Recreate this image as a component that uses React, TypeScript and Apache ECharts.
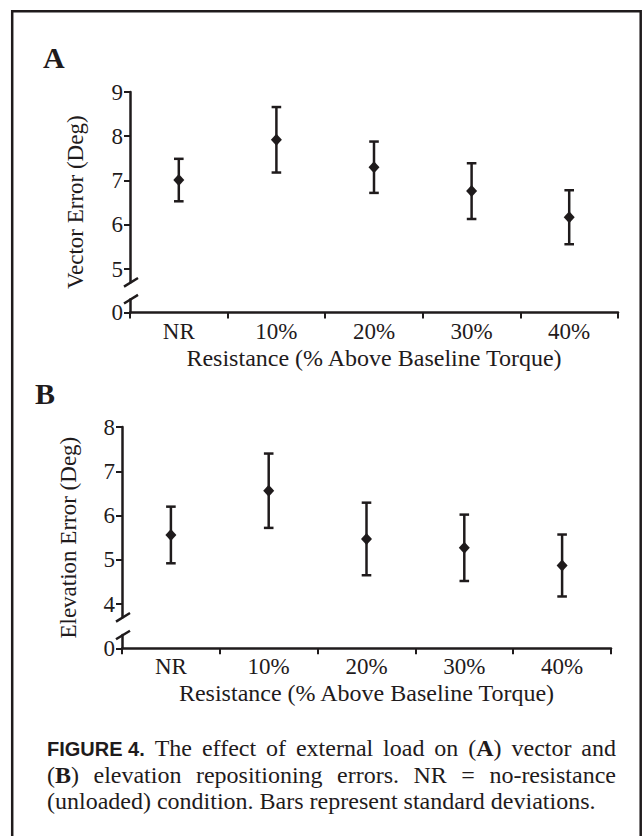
import React, { useEffect, useRef } from 'react';
import * as echarts from 'echarts';

// ---------- data ----------
const categories = ['NR', '10%', '20%', '30%', '40%'];
const vectorMean = [7.01, 7.92, 7.3, 6.76, 6.17];
const vectorSD = [0.48, 0.74, 0.58, 0.63, 0.61];
const elevationMean = [5.56, 6.56, 5.47, 5.27, 4.87];
const elevationSD = [0.64, 0.84, 0.82, 0.75, 0.7];
const vectorTicks = [5, 6, 7, 8, 9];
const elevationTicks = [4, 5, 6, 7, 8];
const zeroTicks = [0];
const xAxisTitle = 'Resistance (% Above Baseline Torque)';
const vectorTitle = 'Vector Error (Deg)';
const elevationTitle = 'Elevation Error (Deg)';
const panelLetters = ['A', 'B'];

const INK = '#1f1b1c';
const SERIF = 'Liberation Serif';
const SANS = 'Liberation Sans';

type Panel = {
  left: number; right: number; top: number; unit: number;
  min: number; max: number; zeroY: number; lowH: number;
  mean: number[]; sd: number[]; ticks: number[]; title: string;
  titleX: number; letterX: number; letterY: number;
};

const panels: Panel[] = [
  { left: 130, right: 618, top: 92, unit: 44.25, min: 4.7, max: 9, zeroY: 312.5, lowH: 13.3,
    mean: vectorMean, sd: vectorSD, ticks: vectorTicks, title: vectorTitle,
    titleX: 75, letterX: 43, letterY: 57 },
  { left: 122, right: 611, top: 427, unit: 44.25, min: 3.7, max: 8, zeroY: 648.3, lowH: 13.3,
    mean: elevationMean, sd: elevationSD, ticks: elevationTicks, title: elevationTitle,
    titleX: 68, letterX: 35, letterY: 393 },
];

function buildOption() {
  const grid: any[] = [];
  const xAxis: any[] = [];
  const yAxis: any[] = [];
  const series: any[] = [];
  const graphic: any[] = [];

  const canvas = document.createElement('canvas');
  const ctx = canvas.getContext('2d')!;
  const measure = (t: string, weight: string, size: number, fam: string) => {
    ctx.font = `${weight} ${size}px "${fam}"`;
    return ctx.measureText(t).width;
  };

  panels.forEach((p, k) => {
    const h = (p.max - p.min) * p.unit;
    const w = p.right - p.left;
    grid.push({ left: p.left, top: p.top, width: w, height: h, outerBoundsMode: 'none' });
    grid.push({ left: p.left, top: p.zeroY - p.lowH, width: w, height: p.lowH, outerBoundsMode: 'none' });
    const gTop = k * 2;
    const gLow = k * 2 + 1;

    xAxis.push({ type: 'category', gridIndex: gTop, data: categories, show: false, boundaryGap: true });
    xAxis.push({
      type: 'category', gridIndex: gLow, data: categories, boundaryGap: true, position: 'bottom',
      axisLine: { show: true, lineStyle: { color: INK, width: 2.5 } },
      axisTick: { show: true, length: 6, lineStyle: { color: INK, width: 2 } },
      axisLabel: { interval: 0, margin: 7, color: INK, fontSize: 23, fontFamily: SERIF },
      splitLine: { show: false },
      name: xAxisTitle, nameLocation: 'middle', nameGap: 33,
      nameTextStyle: { color: INK, fontSize: 24, fontFamily: SERIF },
    });

    yAxis.push({
      type: 'value', gridIndex: gTop, min: p.min, max: p.max,
      axisLine: { show: true, lineStyle: { color: INK, width: 2.5 } },
      axisTick: { show: true, length: 6, customValues: p.ticks, lineStyle: { color: INK, width: 2 } },
      axisLabel: { customValues: p.ticks, margin: 7, color: INK, fontSize: 23, fontFamily: SERIF },
      splitLine: { show: false },
    });
    yAxis.push({
      type: 'value', gridIndex: gLow, min: 0, max: p.lowH / p.unit,
      axisLine: { show: true, lineStyle: { color: INK, width: 2.5 } },
      axisTick: { show: true, length: 6, customValues: zeroTicks, lineStyle: { color: INK, width: 2 } },
      axisLabel: { customValues: zeroTicks, margin: 7, color: INK, fontSize: 23, fontFamily: SERIF },
      splitLine: { show: false },
    });

    series.push({
      type: 'custom', xAxisIndex: gTop, yAxisIndex: gTop,
      data: categories.map((_, i) => [i, p.mean[i] - p.sd[i], p.mean[i] + p.sd[i]]),
      encode: { x: 0, y: [1, 2] },
      renderItem: (_params: any, api: any) => {
        const idx = api.value(0);
        const hi = api.coord([idx, api.value(2)]);
        const lo = api.coord([idx, api.value(1)]);
        const hw = 4.8;
        const st = { stroke: INK, lineWidth: 2.5 };
        return {
          type: 'group',
          children: [
            { type: 'line', shape: { x1: hi[0], y1: hi[1], x2: lo[0], y2: lo[1] }, style: st },
            { type: 'line', shape: { x1: hi[0] - hw, y1: hi[1], x2: hi[0] + hw, y2: hi[1] }, style: st },
            { type: 'line', shape: { x1: lo[0] - hw, y1: lo[1], x2: lo[0] + hw, y2: lo[1] }, style: st },
          ],
        };
      },
      silent: true,
    });
    series.push({
      type: 'scatter', xAxisIndex: gTop, yAxisIndex: gTop,
      data: categories.map((_, i) => [i, p.mean[i]]),
      symbol: 'diamond', symbolSize: [11, 12],
      itemStyle: { color: INK, opacity: 1 },
      silent: true,
    });

    // axis break slashes
    const breakTopY = p.top + h;
    const breakLowY = p.zeroY - p.lowH;
    [breakTopY, breakLowY].forEach((yy) => {
      graphic.push({
        type: 'line', silent: true,
        shape: { x1: p.left - 6, y1: yy + 4.3, x2: p.left + 8, y2: yy - 4.3 },
        style: { stroke: INK, lineWidth: 2.5 },
      });
    });

    // y-axis title
    graphic.push({
      type: 'text', x: p.titleX, y: (p.top + p.zeroY) / 2, rotation: Math.PI / 2, silent: true,
      style: { text: p.title, fill: INK, fontSize: 23, fontFamily: SERIF, align: 'center', verticalAlign: 'middle' },
    });
    // panel letter
    graphic.push({
      type: 'text', x: p.letterX, y: p.letterY, silent: true,
      style: { text: panelLetters[k], fill: INK, fontSize: 30, fontWeight: 'bold', fontFamily: SERIF, align: 'left', verticalAlign: 'middle' },
    });
  });

  // frame
  graphic.push({
    type: 'rect', silent: true, z: -1,
    shape: { x: 12.2, y: 11.2, width: 628.5, height: 860 },
    style: { fill: 'none', stroke: INK, lineWidth: 2.5 },
  });

  // caption
  type Run = { t: string; wt: string; s: number; f: string };
  const r = (t: string, bold = false): Run => ({ t, wt: bold ? 'bold' : 'normal', s: 24, f: SERIF });
  const fig = (t: string): Run => ({ t, wt: 'bold', s: 20, f: SANS });
  const capLeft = 47;
  const capRight = 616;
  const lines: { words: Run[][]; y: number; justify: boolean }[] = [
    {
      y: 748, justify: true,
      words: [[fig('FIGURE 4.')], [r('The')], [r('effect')], [r('of')], [r('external')], [r('load')], [r('on')],
        [r('('), r('A', true), r(')')], [r('vector')], [r('and')]],
    },
    {
      y: 775, justify: true,
      words: [[r('('), r('B', true), r(')')], [r('elevation')], [r('repositioning')], [r('errors.')], [r('NR')], [r('=')], [r('no-resistance')]],
    },
    {
      y: 801, justify: false,
      words: [[r('(unloaded)')], [r('condition.')], [r('Bars')], [r('represent')], [r('standard')], [r('deviations.')]],
    },
  ];
  const spaceW = measure(' ', 'normal', 24, SERIF);
  lines.forEach((ln) => {
    const widths = ln.words.map((wd) => wd.reduce((a, q) => a + measure(q.t, q.wt, q.s, q.f), 0));
    const total = widths.reduce((a, b) => a + b, 0);
    const gap = ln.justify ? (capRight - capLeft - total) / (ln.words.length - 1) : spaceW;
    let x = capLeft;
    ln.words.forEach((wd, i) => {
      let xx = x;
      wd.forEach((q) => {
        graphic.push({
          type: 'text', x: xx, y: q.f === SANS ? ln.y + 0.5 : ln.y, silent: true,
          style: { text: q.t, fill: INK, fontSize: q.s, fontWeight: q.wt, fontFamily: q.f, align: 'left', verticalAlign: 'middle' },
        });
        xx += measure(q.t, q.wt, q.s, q.f);
      });
      x += widths[i] + gap;
    });
  });

  return {
    animation: false,
    backgroundColor: '#ffffff',
    grid, xAxis, yAxis, series, graphic,
  };
}

export default function App() {
  const ref = useRef<HTMLDivElement>(null);
  useEffect(() => {
    if (!ref.current) return;
    const chart = echarts.init(ref.current, undefined, { renderer: 'svg' });
    chart.setOption(buildOption() as any);
    return () => chart.dispose();
  }, []);
  return (
    <div
      ref={ref}
      style={{ position: 'absolute', left: 0, top: 0, width: 644, height: 836, background: '#fff' }}
    />
  );
}
